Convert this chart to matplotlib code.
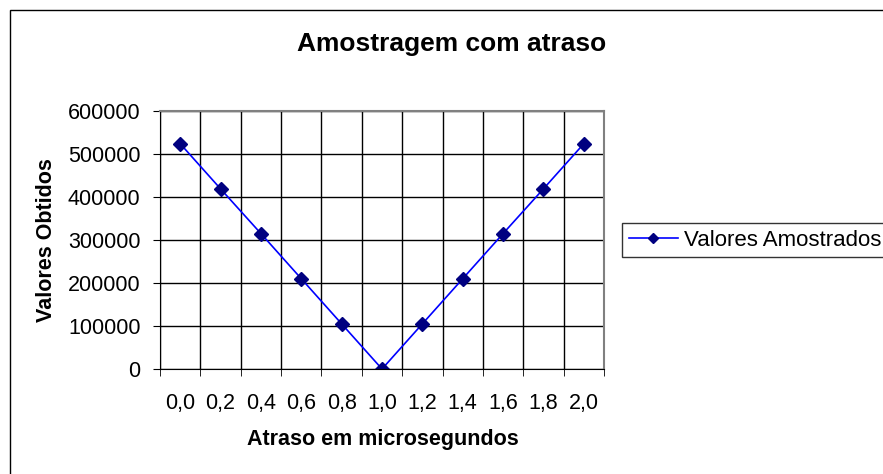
import matplotlib.pyplot as plt
import numpy as np

plt.rcParams['font.family'] = ['Liberation Sans', 'DejaVu Sans']

# dados
atrasos = ["0,0", "0,2", "0,4", "0,6", "0,8", "1,0", "1,2", "1,4", "1,6", "1,8", "2,0"]
valores = [524000, 419000, 315000, 210000, 105000, 0, 105000, 210000, 315000, 419000, 524000]
y_ticks = [0, 100000, 200000, 300000, 400000, 500000, 600000]

W, H = 883, 474
fig = plt.figure(figsize=(W / 100, H / 100), dpi=100)

# moldura externa do grafico
fig.patches.append(plt.Rectangle((10 / W, -0.01), 1.0, 1 - 10 / H + 0.01,
                                 transform=fig.transFigure, fill=False,
                                 edgecolor='black', linewidth=1))

ax = fig.add_axes([160 / W, 1 - 369 / H, 444 / W, 258 / H])
x = np.arange(len(atrasos))
ax.plot(x, valores, color='#0000FF', linewidth=1.2, marker='D', markersize=7,
        markerfacecolor='#000080', markeredgecolor='#000080', label='Valores Amostrados')

ax.set_xlim(-0.5, len(atrasos) - 0.5)
ax.set_ylim(0, 600000)
ax.set_yticks(y_ticks)
ax.set_yticklabels([str(v) for v in y_ticks], fontsize=15.5)
ax.set_xticks(x)
ax.set_xticklabels(atrasos, fontsize=15.5)
ax.tick_params(axis='x', length=0, pad=17)
ax.set_xticks(np.arange(-0.5, len(atrasos), 1), minor=True)
ax.tick_params(axis='x', which='minor', length=5, direction='out', color='black')
ax.tick_params(axis='y', length=5, direction='out', pad=9)

# grade
ax.grid(True, axis='y', color='black', linewidth=1)
ax.grid(True, axis='x', which='minor', color='black', linewidth=1)
ax.set_axisbelow(True)

for s in ['top', 'right']:
    ax.spines[s].set_color('#808080')
    ax.spines[s].set_linewidth(1.5)
ax.spines['left'].set_color('black')
ax.spines['bottom'].set_color('black')

# titulos
fig.text(452 / W, 1 - 44 / H, 'Amostragem com atraso', fontsize=19, fontweight='bold',
         ha='center', va='center')
fig.text(383 / W, 1 - 440 / H, 'Atraso em microsegundos', fontsize=15.5, fontweight='bold',
         ha='center', va='center')
fig.text(47 / W, 1 - 240 / H, 'Valores Obtidos', fontsize=15.5, fontweight='bold',
         ha='center', va='center', rotation=90)

leg = ax.legend(loc='center left', bbox_to_anchor=(622 / W, 1 - 240 / H),
                bbox_transform=fig.transFigure, fontsize=16, frameon=True,
                fancybox=False, edgecolor='black', handlelength=2.2,
                borderpad=0.3, borderaxespad=0, handletextpad=0.3, markerscale=0.75)
leg.get_frame().set_linewidth(1)

fig.savefig('out.png', dpi=100)
